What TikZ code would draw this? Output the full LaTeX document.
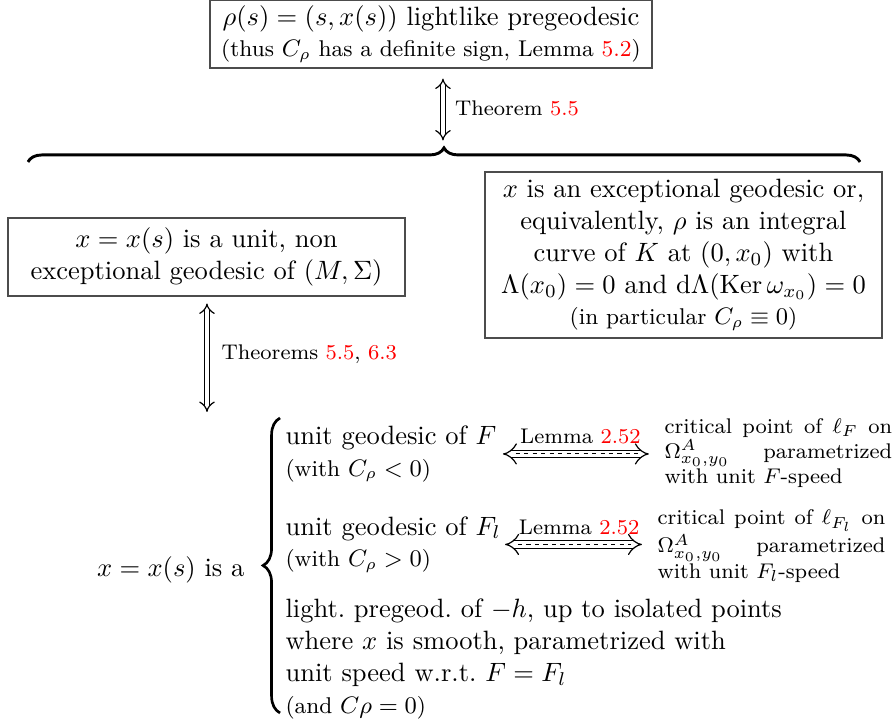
\documentclass[tikz,border=0pt]{standalone}
\usepackage{amsmath,amssymb}
\usepackage{xcolor}
\usepackage{tikz}
\usetikzlibrary{arrows.meta,positioning,decorations.pathreplacing}
\newcommand{\notesize}{\fontsize{8.6}{10.3}\selectfont}
\newcommand{\refnum}[1]{\textcolor{red}{#1}}
\tikzset{
  framebox/.style={draw=black!70, line width=0.6pt, align=center, inner sep=2pt},
  equivarrow/.style={double, double distance=1.6pt, line width=0.45pt, {Implies}-{Implies}},
  lemmaarrow/.style={double, double distance=2.4pt, line width=0.45pt, {Implies}-{Implies}},
  midline/.style={line width=0.4pt, dash pattern=on 1.6pt off 1.6pt},
  topbrace/.style={decorate, decoration={brace, amplitude=0.186cm}, line width=1.1pt},
  casebrace/.style={decorate, decoration={brace, amplitude=0.225cm}, line width=1pt},
  itemtext/.style={anchor=west, inner sep=0pt, align=left},
  crittext/.style={anchor=west, inner sep=0pt, text width=3.02cm, align=justify, font=\footnotesize},
  arrowlabel/.style={font=\footnotesize}
}

\begin{document}
\begin{tikzpicture}
  \useasboundingbox (0,0) rectangle (11.857,9.602);
  \node[framebox, minimum width=5.862cm, minimum height=0.902cm] (top) at (5.716,9.151)
    {$\rho(s)=(s,x(s))$ lightlike pregeodesic\\ {\notesize (thus $C_\rho$ has a definite sign, Lemma \refnum{5.2})}};
  \coordinate (bracetip) at (5.875,7.639);
  \coordinate (braceleft) at (0.371,7.454);
  \coordinate (braceright) at (11.406,7.454);
  \draw[equivarrow, shorten <=0.13cm, shorten >=0.1cm] (top.south -| bracetip) -- (bracetip)
    node[midway, right, arrowlabel, xshift=1pt] {Theorem \refnum{5.5}};
  \draw[topbrace] (braceleft) -- (braceright);

  \node[framebox, minimum width=5.265cm, minimum height=1.034cm] (nonexc) at (2.739,6.194)
    {$x=x(s)$ is a unit, non\\ exceptional geodesic of $(M,\Sigma)$};
  \node[framebox, minimum width=5.265cm, minimum height=2.2cm] (exc) at (9.065,6.220)
    {$x$ is an exceptional geodesic or,\\ equivalently, $\rho$ is an integral\\ curve of $K$ at $(0,x_0)$ with\\
     $\Lambda(x_0)=0$ and $\mathrm{d}\Lambda(\mathrm{Ker}\,\omega_{x_0})=0$\\ {\notesize (in particular $C_\rho\equiv 0$)}};

  \coordinate (caseshead) at (2.745,4.138);
  \draw[equivarrow, shorten <=0.09cm] (nonexc.south -| caseshead) -- (caseshead)
    node[midway, right, arrowlabel, xshift=2pt] {Theorems \refnum{5.5}, \refnum{6.3}};

  \node[anchor=east, inner sep=0pt] (xcase) at (3.249,2.042) {$x=x(s)$ is a};
  \coordinate (casebot) at (3.714,0.146);
  \coordinate (casetop) at (3.714,4.058);
  \draw[casebrace] (casebot) -- (casetop);

  \node[itemtext] (geoF) at (3.78,3.581) {unit geodesic of $F$\\ {\notesize (with $C_\rho<0$)}};
  \node[itemtext] (geoFl) at (3.78,2.381) {unit geodesic of $F_l$\\ {\notesize (with $C_\rho>0$)}};
  \node[itemtext] (light) at (3.78,0.862)
    {light.\ pregeod.\ of $-h$, up to isolated points\\ where $x$ is smooth, parametrized with\\
     unit speed w.r.t.\ $F=F_l$\\ {\notesize (and $C\rho=0$)}};

  \node[crittext] (critF) at (8.806,3.594)
    {\tolerance=10000\hyphenpenalty=10000 critical point of $\ell_F$ on $\Omega^A_{x_0,y_0}$ parametrized\linebreak with unit $F$-speed};
  \node[crittext] (critFl) at (8.714,2.361)
    {\tolerance=10000\hyphenpenalty=10000 critical point of $\ell_{F_l}$ on $\Omega^A_{x_0,y_0}$ parametrized\linebreak with unit $F_l$-speed};

  \draw[lemmaarrow, shorten <=0.08cm, shorten >=0.2cm] (geoF.east) -- (geoF.east -| critF.west)
    node[midway, above, arrowlabel, inner sep=1pt, yshift=2.5pt] {Lemma \refnum{2.52}};
  \draw[midline, shorten <=0.25cm, shorten >=0.35cm] (geoF.east) -- (geoF.east -| critF.west);
  \draw[lemmaarrow, shorten <=0.05cm, shorten >=0.2cm] (geoFl.east) -- (geoFl.east -| critFl.west)
    node[midway, above, arrowlabel, inner sep=1pt, yshift=2.5pt] {Lemma \refnum{2.52}};
  \draw[midline, shorten <=0.22cm, shorten >=0.35cm] (geoFl.east) -- (geoFl.east -| critFl.west);
\end{tikzpicture}
\end{document}
